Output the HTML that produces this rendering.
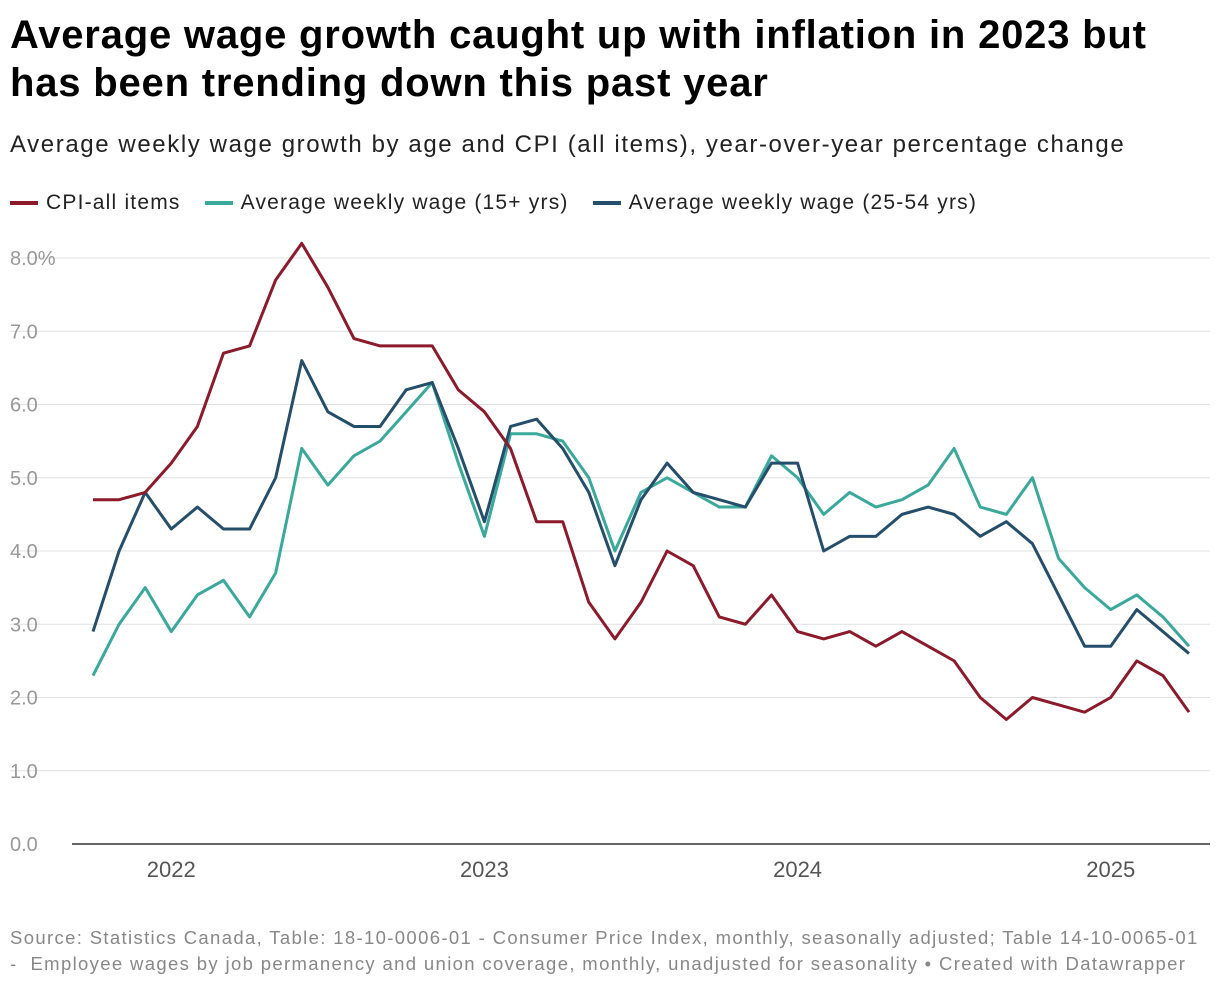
<!DOCTYPE html>
<html><head><meta charset="utf-8">
<style>
body{margin:0;background:#fff;width:1220px;height:986px;overflow:hidden;font-family:"Liberation Sans",Roboto,sans-serif;}
h1{position:absolute;left:10px;top:11px;margin:0;font-size:40px;line-height:48px;font-weight:700;color:#000;white-space:nowrap;letter-spacing:0.8px;}
.sub{position:absolute;left:10px;top:131px;font-size:24px;color:#222;white-space:nowrap;letter-spacing:1.6px;}
.legend{position:absolute;left:10px;top:191px;font-size:21px;color:#222;display:flex;white-space:nowrap;letter-spacing:1.2px;}
.legend span{display:flex;align-items:center;margin-right:24px;}
.legend i{display:inline-block;width:28px;height:4px;margin-right:8px;}
.src{position:absolute;left:10px;top:925px;font-size:18.5px;line-height:26px;color:#888;white-space:nowrap;letter-spacing:1.35px;}
svg{position:absolute;left:0;top:0;}
</style></head><body>
<h1>Average wage growth caught up with inflation in 2023 but<br>has been trending down this past year</h1>
<div class="sub">Average weekly wage growth by age and CPI (all items), year-over-year percentage change</div>
<div class="legend">
<span><i style="background:#8b1a2b"></i>CPI-all items</span>
<span><i style="background:#3aa89b"></i>Average weekly wage (15+ yrs)</span>
<span><i style="background:#254e6b"></i>Average weekly wage (25-54 yrs)</span>
</div>
<svg id="chart" width="1220" height="986"></svg>
<div class="src">Source: Statistics Canada, Table: 18-10-0006-01 - Consumer Price Index, monthly, seasonally adjusted; Table 14-10-0065-01<br>-&nbsp; Employee wages by job permanency and union coverage, monthly, unadjusted for seasonality • Created with Datawrapper</div>
<script>
const cpi=[4.7,4.7,4.8,5.2,5.7,6.7,6.8,7.7,8.2,7.6,6.9,6.8,6.8,6.8,6.2,5.9,5.4,4.4,4.4,3.3,2.8,3.3,4.0,3.8,3.1,3.0,3.4,2.9,2.8,2.9,2.7,2.9,2.7,2.5,2.0,1.7,2.0,1.9,1.8,2.0,2.5,2.3,1.8];
const wage15=[2.3,3.0,3.5,2.9,3.4,3.6,3.1,3.7,5.4,4.9,5.3,5.5,5.9,6.3,5.2,4.2,5.6,5.6,5.5,5.0,4.0,4.8,5.0,4.8,4.6,4.6,5.3,5.0,4.5,4.8,4.6,4.7,4.9,5.4,4.6,4.5,5.0,3.9,3.5,3.2,3.4,3.1,2.7];
const wage2554=[2.9,4.0,4.8,4.3,4.6,4.3,4.3,5.0,6.6,5.9,5.7,5.7,6.2,6.3,5.4,4.4,5.7,5.8,5.4,4.8,3.8,4.7,5.2,4.8,4.7,4.6,5.2,5.2,4.0,4.2,4.2,4.5,4.6,4.5,4.2,4.4,4.1,3.4,2.7,2.7,3.2,2.9,2.6];
const yTicks=[0,1,2,3,4,5,6,7,8];
const yearLabels=["2022","2023","2024","2025"];
const yearIndex=[3,15,27,39];
const svg=document.getElementById('chart');
const NS='http://www.w3.org/2000/svg';
const x=i=>93+i*(1189-93)/42;
const y=v=>844-v*(844-258)/8;
function mk(t,a){const e=document.createElementNS(NS,t);for(const k in a)e.setAttribute(k,a[k]);svg.appendChild(e);return e;}
yTicks.forEach(v=>{
 if(v>0){const g=mk('line',{x1:10,x2:1210,y1:y(v),y2:y(v),stroke:'#e0e0e0','stroke-width':1});
 
 }
 const t=mk('text',{x:10,y:y(v)+7,'font-size':20,fill:'#999','font-family':'Liberation Sans, sans-serif'});
 t.textContent=v.toFixed(1)+(v===8?'%':'');
 
 
});
const base=mk('line',{x1:72,x2:1210,y1:844,y2:844,stroke:'#333','stroke-width':1.5});


yearLabels.forEach((l,j)=>{
 const t=mk('text',{x:x(yearIndex[j]),y:877,'font-size':22,fill:'#555','text-anchor':'middle','font-family':'Liberation Sans, sans-serif'});
 t.textContent=l;
 
 
});
[[wage15,'#3aa89b','line-wage-15plus'],[wage2554,'#254e6b','line-wage-25-54'],[cpi,'#8b1a2b','line-cpi']].forEach(([d,c,n])=>{
 const p=mk('polyline',{points:d.map((v,i)=>x(i)+','+y(v)).join(' '),fill:'none',stroke:c,'stroke-width':3,'stroke-linejoin':'round'});
 
 
});
</script>
</body></html>
